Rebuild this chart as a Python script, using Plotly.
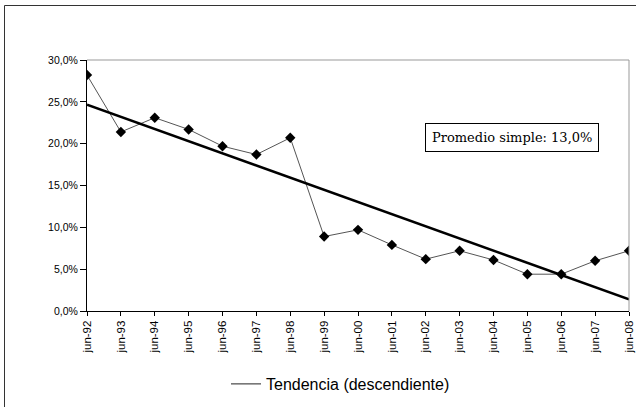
import numpy as np
import plotly.graph_objects as go

categories = ["jun-92", "jun-93", "jun-94", "jun-95", "jun-96", "jun-97", "jun-98", "jun-99",
              "jun-00", "jun-01", "jun-02", "jun-03", "jun-04", "jun-05", "jun-06", "jun-07", "jun-08"]
values = [28.2, 21.4, 23.1, 21.7, 19.7, 18.7, 20.7, 8.9, 9.7, 7.9, 6.2, 7.2, 6.1, 4.4, 4.4, 6.0, 7.2]
y_ticks = [0, 5, 10, 15, 20, 25, 30]
y_tick_labels = ["0,0%", "5,0%", "10,0%", "15,0%", "20,0%", "25,0%", "30,0%"]
annotation_text = "Promedio simple: 13,0%"
legend_name = "Tendencia (descendiente)"

x_idx = np.arange(len(categories))
slope, intercept = np.polyfit(x_idx, values, 1)
trend = slope * x_idx + intercept

W, H = 636, 407
L, R, T, B = 87, 7, 60, 96
pw, ph = W - L - R, H - T - B

fig = go.Figure()
fig.add_trace(go.Scatter(
    x=x_idx, y=values, mode="lines+markers", showlegend=False,
    line=dict(color="#555555", width=1),
    marker=dict(symbol="diamond", size=8, color="black"),
))
fig.add_trace(go.Scatter(
    x=x_idx, y=trend, mode="lines", showlegend=False,
    line=dict(color="black", width=2.5),
))
# legend entry (thin line sample as in the reference)
fig.add_trace(go.Scatter(
    x=[None], y=[None], mode="lines", name=legend_name,
    line=dict(color="#222222", width=1),
))

def px_x(p):
    return (p - L) / pw

def px_y(p):
    return (H - B - p) / ph

fig.update_layout(
    width=W, height=H,
    margin=dict(l=L, r=R, t=T, b=B, autoexpand=False),
    paper_bgcolor="white", plot_bgcolor="white",
    font=dict(family="Liberation Sans, Arial, sans-serif", size=10, color="black"),
    showlegend=True,
    legend=dict(
        x=px_x(226), y=px_y(384), xanchor="left", yanchor="middle",
        orientation="h", font=dict(size=16, family="Liberation Sans, Arial, sans-serif"),
        bgcolor="rgba(0,0,0,0)", itemwidth=30,
    ),
    xaxis=dict(
        range=[0, len(categories) - 1], automargin=False,
        tickmode="array", tickvals=list(x_idx), ticktext=categories,
        tickangle=-90, ticks="outside", ticklen=4, tickcolor="black",
        showline=True, linecolor="black", linewidth=1,
        showgrid=False, zeroline=False,
        tickfont=dict(size=11.5), ticklabeloverflow="allow",
    ),
    yaxis=dict(
        range=[0, 30], automargin=False,
        tickmode="array", tickvals=y_ticks, ticktext=y_tick_labels,
        ticks="outside", ticklen=6, tickcolor="black",
        showline=True, linecolor="black", linewidth=1,
        showgrid=False, zeroline=False,
        tickfont=dict(size=10.5),
    ),
    shapes=[
        # plot area border (top and right, gray)
        dict(type="line", xref="paper", yref="paper", x0=0, x1=1, y0=1, y1=1,
             line=dict(color="#999999", width=1)),
        dict(type="line", xref="paper", yref="paper", x0=1, x1=1, y0=0, y1=1,
             line=dict(color="#999999", width=1)),
        # outer chart frame
        dict(type="line", xref="paper", yref="paper", x0=px_x(4.5), x1=px_x(640),
             y0=px_y(5.5), y1=px_y(5.5), line=dict(color="#333333", width=1)),
        dict(type="line", xref="paper", yref="paper", x0=px_x(4.5), x1=px_x(4.5),
             y0=px_y(5.5), y1=px_y(410), line=dict(color="#333333", width=1)),
    ],
    annotations=[
        dict(
            text=annotation_text, xref="paper", yref="paper",
            x=px_x(511.5), y=px_y(137.5), xanchor="center", yanchor="middle",
            showarrow=False,
            font=dict(family="DejaVu Serif, Liberation Serif, serif", size=13, color="black"),
            bordercolor="black", borderwidth=1, borderpad=6, bgcolor="white",
        )
    ],
)

fig.write_html("out.html", config={"displayModeBar": False},
               post_script="document.body.style.margin='0';")
